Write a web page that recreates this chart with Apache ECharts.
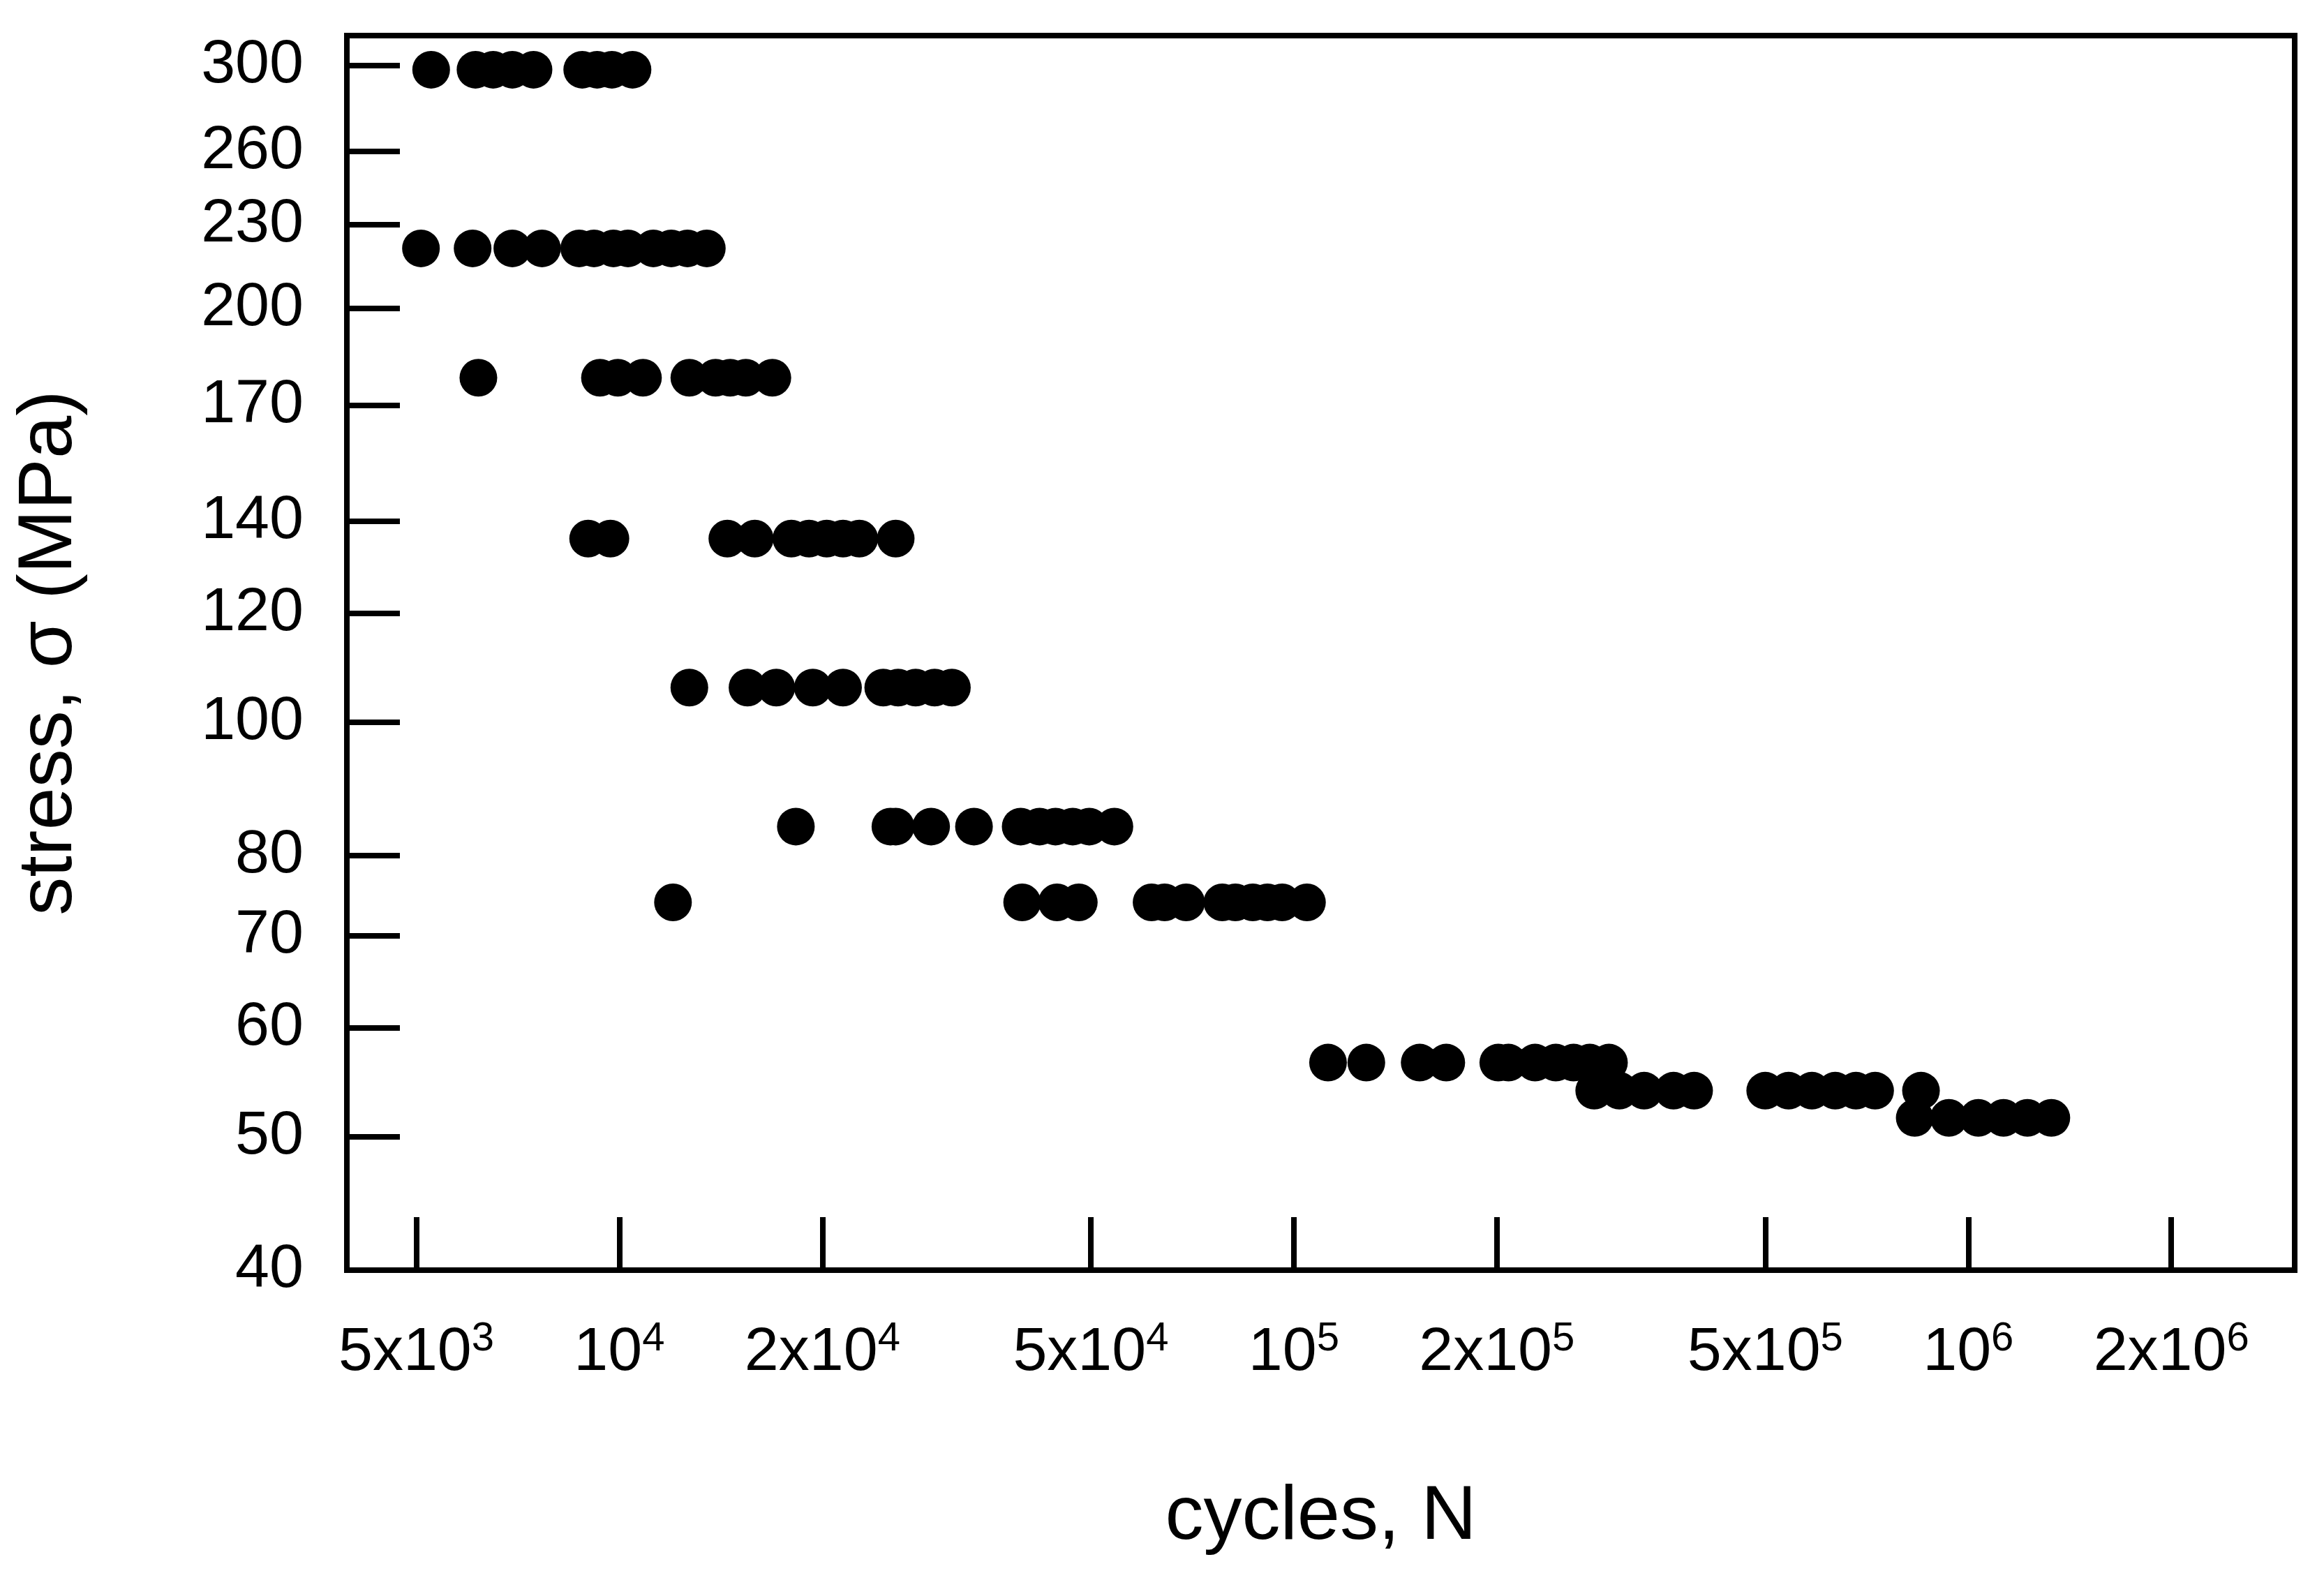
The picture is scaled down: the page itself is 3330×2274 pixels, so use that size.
<!DOCTYPE html>
<html><head><meta charset="utf-8">
<script src="https://cdn.jsdelivr.net/npm/echarts@6/dist/echarts.min.js"></script>
<style>html,body{margin:0;padding:0;background:#fff}#c{width:3330px;height:2274px}</style>
</head><body><div id="c"></div>
<script>
const xTicks = [5e3, 1e4, 2e4, 5e4, 1e5, 2e5, 5e5, 1e6, 2e6];
const xTickLabels = ['5x10{s|3}', '10{s|4}', '2x10{s|4}', '5x10{s|4}', '10{s|5}', '2x10{s|5}', '5x10{s|5}', '10{s|6}', '2x10{s|6}'];
const yTicks = [300, 260, 230, 200, 170, 140, 120, 100, 80, 70, 60, 50, 40];
const stressLevels = [298, 221, 178, 136, 106, 84, 74, 56.6, 54, 51.6];
const cycles300 = [5260, 6120, 6500, 6940, 7460, 8810, 9270, 9750, 10460];
const cycles221 = [5080, 6060, 6940, 7680, 8720, 9170, 9800, 10300, 11230, 11940, 12620, 13480];
const cycles178 = [6180, 9360, 9950, 10840, 12700, 13890, 14600, 15400, 16860];
const cycles136 = [8990, 9700, 14460, 15880, 17990, 19110, 20300, 21460, 22690, 25690];
const cycles106 = [12700, 15490, 17090, 19360, 21460, 24620, 25900, 27500, 29340, 31120];
const cycles84 = [18270, 25230, 25690, 28990, 33560, 39360, 41990, 44330, 47010, 49750, 54200];
const cycles74 = [12010, 39560, 44560, 48000, 61540, 64330, 69250, 78340, 81920, 86940, 91400, 96110, 104600];
const cycles57 = [112400, 128100, 153700, 168300, 201000, 208100, 227900, 244600, 259900, 274700, 293300];
const cycles54 = [278900, 303900, 330700, 365600, 392200, 500000, 541500, 586400, 635000, 681500, 727600, 851000];
const cycles52 = [833000, 936000, 1035000, 1128000, 1224000, 1328000];
const groups = [cycles300, cycles221, cycles178, cycles136, cycles106, cycles84, cycles74, cycles57, cycles54, cycles52];

const L = Math.log10;
const pts = [];
groups.forEach((g, i) => g.forEach(n => pts.push([L(n), L(stressLevels[i])])));
const xTv = xTicks.map(L), yTv = yTicks.map(L);
function nearest(arr, v){let b=0;arr.forEach((a,i)=>{if(Math.abs(a-v)<Math.abs(arr[b]-v))b=i;});return b;}
const font = 'Liberation Sans, Arial, sans-serif';
const chart = echarts.init(document.getElementById('c'));
chart.setOption({
  backgroundColor: '#fff',
  animation: false,
  grid: {left: 497, right: 42, top: 51, bottom: 454, show: true, borderColor: '#000', borderWidth: 8, backgroundColor: 'transparent'},
  xAxis: {
    type: 'value', min: 3.596, max: 6.484,
    name: 'cycles, N', nameLocation: 'middle', nameGap: 300,
    nameTextStyle: {fontFamily: font, fontSize: 110, color: '#000'},
    axisLine: {show: true, lineStyle: {color: '#000', width: 8}},
    splitLine: {show: false},
    axisTick: {show: true, inside: true, length: 76, lineStyle: {color: '#000', width: 8}, customValues: xTv},
    axisLabel: {customValues: xTv, margin: 70, fontFamily: font, fontSize: 88, color: '#000',
      formatter: v => xTickLabels[nearest(xTv, v)],
      rich: {s: {fontSize: 58, verticalAlign: 'top', padding: [0,0,40,0], fontFamily: font, color: '#000'}}}
  },
  yAxis: {
    type: 'value', min: 1.602, max: 2.499,
    name: 'stress, σ (MPa)', nameLocation: 'middle', nameGap: 370,
    nameTextStyle: {fontFamily: font, fontSize: 110, color: '#000'},
    axisLine: {show: true, lineStyle: {color: '#000', width: 8}},
    splitLine: {show: false},
    axisTick: {show: true, inside: true, length: 76, lineStyle: {color: '#000', width: 8}, customValues: yTv},
    axisLabel: {customValues: yTv, margin: 62, fontFamily: font, fontSize: 88, color: '#000',
      formatter: v => String(yTicks[nearest(yTv, v)])}
  },
  series: [{type: 'scatter', data: pts, symbol: 'circle', symbolSize: 54, itemStyle: {color: '#000', opacity: 1}}]
});
</script></body></html>
